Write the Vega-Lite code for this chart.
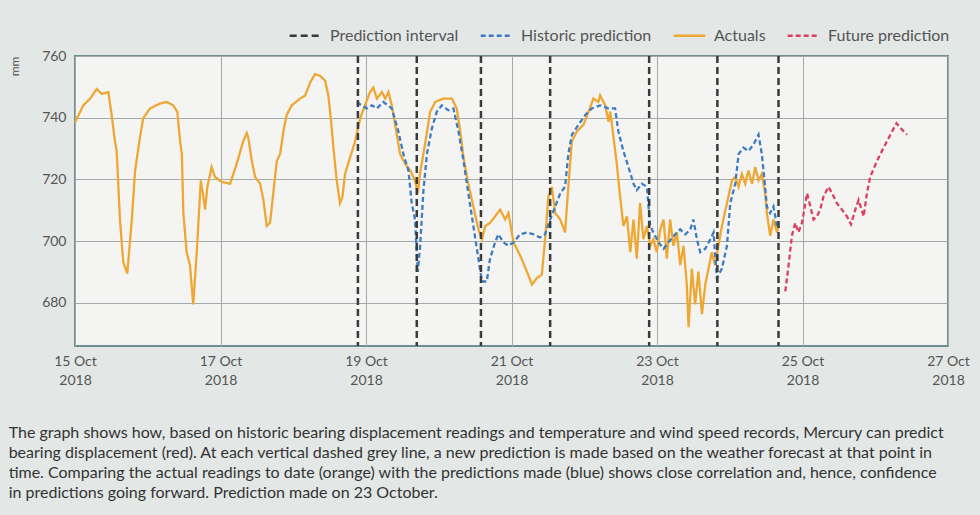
{
  "$schema": "https://vega.github.io/schema/vega-lite/v6.json",
  "autosize": "none",
  "width": 873,
  "height": 290,
  "padding": {"left": 75, "top": 56, "right": 32, "bottom": 169},
  "background": "#e3e7e6",
  "config": {
    "font": "Lato",
    "view": {"fill": "#f4f5f3", "stroke": "#6f9090", "strokeWidth": 2},
    "axis": {"labelFont": "Lato", "labelFontSize": 14, "labelColor": "#555", "titleFont": "Lato", "titleColor": "#555", "gridColor": "#a2abaa", "gridWidth": 1, "ticks": false, "domain": false},
    "legend": {"labelFont": "Lato", "labelFontSize": 16, "labelColor": "#555", "symbolType": "stroke", "symbolStrokeWidth": 2.5, "symbolSize": 1000, "columnPadding": 16, "labelOffset": 7}
  },
  "title": {
    "text": [
      "The graph shows how, based on historic bearing displacement readings and temperature and wind speed records, Mercury can predict",
      "bearing displacement (red). At each vertical dashed grey line, a new prediction is made based on the weather forecast at that point in",
      "time. Comparing the actual readings to date (orange) with the predictions made (blue) shows close correlation and, hence, confidence",
      "in predictions going forward. Prediction made on 23 October."
    ],
    "orient": "bottom",
    "anchor": "start",
    "align": "left",
    "dx": 0,
    "offset": 38,
    "font": "Lato",
    "fontSize": 16,
    "fontWeight": "normal",
    "color": "#333",
    "lineHeight": 20
  },
  "datasets": {
    "intervals": [
      {"t": "2018-10-18T21:20", "s": "Prediction interval"},
      {"t": "2018-10-19T16:45", "s": "Prediction interval"},
      {"t": "2018-10-20T13:55", "s": "Prediction interval"},
      {"t": "2018-10-21T12:45", "s": "Prediction interval"},
      {"t": "2018-10-22T21:25", "s": "Prediction interval"},
      {"t": "2018-10-23T19:55", "s": "Prediction interval"},
      {"t": "2018-10-24T16:05", "s": "Prediction interval"}
    ],
    "lines": [
      {"t":"2018-10-15T00:00","v":738.5,"s":"Actuals"},
      {"t":"2018-10-15T02:45","v":744,"s":"Actuals"},
      {"t":"2018-10-15T05:00","v":746.2,"s":"Actuals"},
      {"t":"2018-10-15T07:10","v":749.3,"s":"Actuals"},
      {"t":"2018-10-15T08:50","v":747.7,"s":"Actuals"},
      {"t":"2018-10-15T11:00","v":748.3,"s":"Actuals"},
      {"t":"2018-10-15T12:05","v":740.9,"s":"Actuals"},
      {"t":"2018-10-15T13:10","v":732.5,"s":"Actuals"},
      {"t":"2018-10-15T13:45","v":729.2,"s":"Actuals"},
      {"t":"2018-10-15T14:50","v":707,"s":"Actuals"},
      {"t":"2018-10-15T15:55","v":693.2,"s":"Actuals"},
      {"t":"2018-10-15T17:15","v":689.5,"s":"Actuals"},
      {"t":"2018-10-15T18:45","v":707,"s":"Actuals"},
      {"t":"2018-10-15T19:50","v":722.9,"s":"Actuals"},
      {"t":"2018-10-15T21:25","v":733.5,"s":"Actuals"},
      {"t":"2018-10-15T22:30","v":739.8,"s":"Actuals"},
      {"t":"2018-10-16T00:45","v":743,"s":"Actuals"},
      {"t":"2018-10-16T04:05","v":744.6,"s":"Actuals"},
      {"t":"2018-10-16T06:15","v":745.1,"s":"Actuals"},
      {"t":"2018-10-16T08:25","v":744,"s":"Actuals"},
      {"t":"2018-10-16T09:45","v":741.9,"s":"Actuals"},
      {"t":"2018-10-16T10:40","v":732.4,"s":"Actuals"},
      {"t":"2018-10-16T11:15","v":728.2,"s":"Actuals"},
      {"t":"2018-10-16T11:45","v":709.1,"s":"Actuals"},
      {"t":"2018-10-16T12:50","v":696.4,"s":"Actuals"},
      {"t":"2018-10-16T13:55","v":692.2,"s":"Actuals"},
      {"t":"2018-10-16T15:00","v":679.5,"s":"Actuals"},
      {"t":"2018-10-16T16:10","v":696.4,"s":"Actuals"},
      {"t":"2018-10-16T17:30","v":719.7,"s":"Actuals"},
      {"t":"2018-10-16T18:20","v":714.4,"s":"Actuals"},
      {"t":"2018-10-16T18:55","v":710.2,"s":"Actuals"},
      {"t":"2018-10-16T19:40","v":717.6,"s":"Actuals"},
      {"t":"2018-10-16T21:05","v":724,"s":"Actuals"},
      {"t":"2018-10-16T22:10","v":720.8,"s":"Actuals"},
      {"t":"2018-10-17T00:25","v":719.2,"s":"Actuals"},
      {"t":"2018-10-17T03:10","v":718.6,"s":"Actuals"},
      {"t":"2018-10-17T05:20","v":725,"s":"Actuals"},
      {"t":"2018-10-17T07:30","v":732.4,"s":"Actuals"},
      {"t":"2018-10-17T08:40","v":735,"s":"Actuals"},
      {"t":"2018-10-17T09:10","v":733.5,"s":"Actuals"},
      {"t":"2018-10-17T10:20","v":726,"s":"Actuals"},
      {"t":"2018-10-17T11:25","v":720.8,"s":"Actuals"},
      {"t":"2018-10-17T13:05","v":718.6,"s":"Actuals"},
      {"t":"2018-10-17T14:10","v":713.3,"s":"Actuals"},
      {"t":"2018-10-17T15:15","v":704.9,"s":"Actuals"},
      {"t":"2018-10-17T16:20","v":705.9,"s":"Actuals"},
      {"t":"2018-10-17T17:25","v":715.5,"s":"Actuals"},
      {"t":"2018-10-17T18:35","v":726,"s":"Actuals"},
      {"t":"2018-10-17T19:40","v":728.2,"s":"Actuals"},
      {"t":"2018-10-17T20:45","v":735.6,"s":"Actuals"},
      {"t":"2018-10-17T21:50","v":740.9,"s":"Actuals"},
      {"t":"2018-10-17T23:30","v":744,"s":"Actuals"},
      {"t":"2018-10-18T02:15","v":746.2,"s":"Actuals"},
      {"t":"2018-10-18T03:55","v":747.2,"s":"Actuals"},
      {"t":"2018-10-18T05:35","v":751.4,"s":"Actuals"},
      {"t":"2018-10-18T07:10","v":754.1,"s":"Actuals"},
      {"t":"2018-10-18T08:50","v":753.6,"s":"Actuals"},
      {"t":"2018-10-18T10:30","v":752,"s":"Actuals"},
      {"t":"2018-10-18T11:35","v":747.2,"s":"Actuals"},
      {"t":"2018-10-18T12:30","v":738.7,"s":"Actuals"},
      {"t":"2018-10-18T13:15","v":730.3,"s":"Actuals"},
      {"t":"2018-10-18T14:20","v":719.7,"s":"Actuals"},
      {"t":"2018-10-18T15:25","v":712.3,"s":"Actuals"},
      {"t":"2018-10-18T16:15","v":714.4,"s":"Actuals"},
      {"t":"2018-10-18T17:05","v":721.8,"s":"Actuals"},
      {"t":"2018-10-18T18:45","v":727.1,"s":"Actuals"},
      {"t":"2018-10-18T20:25","v":732.4,"s":"Actuals"},
      {"t":"2018-10-18T22:05","v":739.8,"s":"Actuals"},
      {"t":"2018-10-18T23:40","v":744,"s":"Actuals"},
      {"t":"2018-10-19T01:20","v":748.3,"s":"Actuals"},
      {"t":"2018-10-19T02:25","v":749.8,"s":"Actuals"},
      {"t":"2018-10-19T03:35","v":746.2,"s":"Actuals"},
      {"t":"2018-10-19T05:15","v":748.3,"s":"Actuals"},
      {"t":"2018-10-19T06:20","v":746.2,"s":"Actuals"},
      {"t":"2018-10-19T07:25","v":748.3,"s":"Actuals"},
      {"t":"2018-10-19T08:30","v":744,"s":"Actuals"},
      {"t":"2018-10-19T10:10","v":734.5,"s":"Actuals"},
      {"t":"2018-10-19T11:15","v":728.2,"s":"Actuals"},
      {"t":"2018-10-19T12:55","v":725,"s":"Actuals"},
      {"t":"2018-10-19T14:35","v":722.9,"s":"Actuals"},
      {"t":"2018-10-19T16:10","v":719.7,"s":"Actuals"},
      {"t":"2018-10-19T17:05","v":715.5,"s":"Actuals"},
      {"t":"2018-10-19T17:50","v":722,"s":"Actuals"},
      {"t":"2018-10-19T19:30","v":731.5,"s":"Actuals"},
      {"t":"2018-10-19T21:10","v":741.9,"s":"Actuals"},
      {"t":"2018-10-19T22:50","v":745.1,"s":"Actuals"},
      {"t":"2018-10-20T01:30","v":746.2,"s":"Actuals"},
      {"t":"2018-10-20T04:20","v":746.2,"s":"Actuals"},
      {"t":"2018-10-20T05:55","v":743,"s":"Actuals"},
      {"t":"2018-10-20T07:05","v":735.6,"s":"Actuals"},
      {"t":"2018-10-20T08:10","v":727.1,"s":"Actuals"},
      {"t":"2018-10-20T09:45","v":718.6,"s":"Actuals"},
      {"t":"2018-10-20T11:25","v":711.2,"s":"Actuals"},
      {"t":"2018-10-20T13:05","v":703.8,"s":"Actuals"},
      {"t":"2018-10-20T14:15","v":700.6,"s":"Actuals"},
      {"t":"2018-10-20T15:20","v":704.9,"s":"Actuals"},
      {"t":"2018-10-20T16:55","v":705.9,"s":"Actuals"},
      {"t":"2018-10-20T18:35","v":708,"s":"Actuals"},
      {"t":"2018-10-20T20:15","v":710.2,"s":"Actuals"},
      {"t":"2018-10-20T21:55","v":707,"s":"Actuals"},
      {"t":"2018-10-20T23:00","v":709.1,"s":"Actuals"},
      {"t":"2018-10-21T00:40","v":699.6,"s":"Actuals"},
      {"t":"2018-10-21T02:50","v":695.4,"s":"Actuals"},
      {"t":"2018-10-21T05:05","v":690.1,"s":"Actuals"},
      {"t":"2018-10-21T06:45","v":685.9,"s":"Actuals"},
      {"t":"2018-10-21T08:20","v":688,"s":"Actuals"},
      {"t":"2018-10-21T10:00","v":689.1,"s":"Actuals"},
      {"t":"2018-10-21T11:05","v":700.6,"s":"Actuals"},
      {"t":"2018-10-21T12:10","v":714.4,"s":"Actuals"},
      {"t":"2018-10-21T13:20","v":717.6,"s":"Actuals"},
      {"t":"2018-10-21T14:25","v":709.1,"s":"Actuals"},
      {"t":"2018-10-21T16:05","v":707,"s":"Actuals"},
      {"t":"2018-10-21T17:40","v":702.8,"s":"Actuals"},
      {"t":"2018-10-21T18:45","v":717.6,"s":"Actuals"},
      {"t":"2018-10-21T19:55","v":732.4,"s":"Actuals"},
      {"t":"2018-10-21T21:35","v":735.6,"s":"Actuals"},
      {"t":"2018-10-21T23:45","v":737.7,"s":"Actuals"},
      {"t":"2018-10-22T01:25","v":741.9,"s":"Actuals"},
      {"t":"2018-10-22T03:00","v":746.2,"s":"Actuals"},
      {"t":"2018-10-22T04:40","v":745.1,"s":"Actuals"},
      {"t":"2018-10-22T05:15","v":747.2,"s":"Actuals"},
      {"t":"2018-10-22T06:55","v":744,"s":"Actuals"},
      {"t":"2018-10-22T08:00","v":738.7,"s":"Actuals"},
      {"t":"2018-10-22T08:35","v":742,"s":"Actuals"},
      {"t":"2018-10-22T09:40","v":733.5,"s":"Actuals"},
      {"t":"2018-10-22T10:45","v":725,"s":"Actuals"},
      {"t":"2018-10-22T11:50","v":714.4,"s":"Actuals"},
      {"t":"2018-10-22T12:55","v":704.9,"s":"Actuals"},
      {"t":"2018-10-22T14:05","v":708,"s":"Actuals"},
      {"t":"2018-10-22T15:10","v":696.4,"s":"Actuals"},
      {"t":"2018-10-22T16:15","v":707,"s":"Actuals"},
      {"t":"2018-10-22T17:20","v":694.3,"s":"Actuals"},
      {"t":"2018-10-22T18:25","v":712.3,"s":"Actuals"},
      {"t":"2018-10-22T19:30","v":700.6,"s":"Actuals"},
      {"t":"2018-10-22T20:40","v":704.9,"s":"Actuals"},
      {"t":"2018-10-22T21:45","v":698.5,"s":"Actuals"},
      {"t":"2018-10-22T22:50","v":700.6,"s":"Actuals"},
      {"t":"2018-10-22T23:55","v":696.4,"s":"Actuals"},
      {"t":"2018-10-23T01:05","v":703.8,"s":"Actuals"},
      {"t":"2018-10-23T02:10","v":707,"s":"Actuals"},
      {"t":"2018-10-23T03:15","v":694.3,"s":"Actuals"},
      {"t":"2018-10-23T04:20","v":707,"s":"Actuals"},
      {"t":"2018-10-23T05:25","v":698.5,"s":"Actuals"},
      {"t":"2018-10-23T06:35","v":702.8,"s":"Actuals"},
      {"t":"2018-10-23T07:40","v":692.2,"s":"Actuals"},
      {"t":"2018-10-23T08:45","v":698.5,"s":"Actuals"},
      {"t":"2018-10-23T09:50","v":685.9,"s":"Actuals"},
      {"t":"2018-10-23T10:25","v":672.1,"s":"Actuals"},
      {"t":"2018-10-23T11:30","v":691.1,"s":"Actuals"},
      {"t":"2018-10-23T12:35","v":679.5,"s":"Actuals"},
      {"t":"2018-10-23T13:40","v":690.1,"s":"Actuals"},
      {"t":"2018-10-23T14:50","v":676.3,"s":"Actuals"},
      {"t":"2018-10-23T15:55","v":685.9,"s":"Actuals"},
      {"t":"2018-10-23T17:00","v":691.1,"s":"Actuals"},
      {"t":"2018-10-23T18:05","v":696.4,"s":"Actuals"},
      {"t":"2018-10-23T19:10","v":692.2,"s":"Actuals"},
      {"t":"2018-10-23T20:15","v":698.5,"s":"Actuals"},
      {"t":"2018-10-23T21:25","v":704.9,"s":"Actuals"},
      {"t":"2018-10-23T23:05","v":712.3,"s":"Actuals"},
      {"t":"2018-10-24T00:45","v":719.7,"s":"Actuals"},
      {"t":"2018-10-24T01:50","v":720.8,"s":"Actuals"},
      {"t":"2018-10-24T02:55","v":717.6,"s":"Actuals"},
      {"t":"2018-10-24T04:00","v":721.8,"s":"Actuals"},
      {"t":"2018-10-24T05:05","v":718.6,"s":"Actuals"},
      {"t":"2018-10-24T06:10","v":722.9,"s":"Actuals"},
      {"t":"2018-10-24T07:20","v":718.6,"s":"Actuals"},
      {"t":"2018-10-24T08:25","v":724,"s":"Actuals"},
      {"t":"2018-10-24T09:30","v":719.7,"s":"Actuals"},
      {"t":"2018-10-24T10:35","v":721.8,"s":"Actuals"},
      {"t":"2018-10-24T11:40","v":715.5,"s":"Actuals"},
      {"t":"2018-10-24T12:15","v":709.1,"s":"Actuals"},
      {"t":"2018-10-24T13:20","v":701.7,"s":"Actuals"},
      {"t":"2018-10-24T14:25","v":707,"s":"Actuals"},
      {"t":"2018-10-24T15:35","v":702.8,"s":"Actuals"},
      {"t":"2018-10-24T16:05","v":705,"s":"Actuals"},

      {"t":"2018-10-18T21:00","v":745.1,"s":"Historic prediction"},
      {"t":"2018-10-18T22:35","v":744,"s":"Historic prediction"},
      {"t":"2018-10-19T00:15","v":743,"s":"Historic prediction"},
      {"t":"2018-10-19T01:55","v":744,"s":"Historic prediction"},
      {"t":"2018-10-19T03:35","v":743,"s":"Historic prediction"},
      {"t":"2018-10-19T05:45","v":745.1,"s":"Historic prediction"},
      {"t":"2018-10-19T08:30","v":743,"s":"Historic prediction"},
      {"t":"2018-10-19T10:40","v":735.6,"s":"Historic prediction"},
      {"t":"2018-10-19T12:20","v":728.2,"s":"Historic prediction"},
      {"t":"2018-10-19T14:00","v":722.9,"s":"Historic prediction"},
      {"t":"2018-10-19T15:05","v":712.3,"s":"Historic prediction"},
      {"t":"2018-10-19T16:10","v":707,"s":"Historic prediction"},
      {"t":"2018-10-19T17:05","v":690,"s":"Historic prediction"},
      {"t":"2018-10-19T17:50","v":698,"s":"Historic prediction"},
      {"t":"2018-10-19T18:55","v":716,"s":"Historic prediction"},
      {"t":"2018-10-19T20:05","v":728.2,"s":"Historic prediction"},
      {"t":"2018-10-19T21:45","v":736.6,"s":"Historic prediction"},
      {"t":"2018-10-19T23:20","v":741.9,"s":"Historic prediction"},
      {"t":"2018-10-20T01:00","v":744,"s":"Historic prediction"},
      {"t":"2018-10-20T03:10","v":742.4,"s":"Historic prediction"},
      {"t":"2018-10-20T04:50","v":743,"s":"Historic prediction"},
      {"t":"2018-10-20T06:30","v":735.6,"s":"Historic prediction"},
      {"t":"2018-10-20T08:10","v":726,"s":"Historic prediction"},
      {"t":"2018-10-20T09:45","v":715.5,"s":"Historic prediction"},
      {"t":"2018-10-20T11:25","v":704.9,"s":"Historic prediction"},
      {"t":"2018-10-20T13:05","v":694.3,"s":"Historic prediction"},
      {"t":"2018-10-20T14:15","v":686.9,"s":"Historic prediction"},
      {"t":"2018-10-20T15:50","v":686.9,"s":"Historic prediction"},
      {"t":"2018-10-20T16:55","v":694.3,"s":"Historic prediction"},
      {"t":"2018-10-20T18:35","v":699.6,"s":"Historic prediction"},
      {"t":"2018-10-20T19:40","v":702.2,"s":"Historic prediction"},
      {"t":"2018-10-20T21:20","v":699.6,"s":"Historic prediction"},
      {"t":"2018-10-20T23:00","v":698.5,"s":"Historic prediction"},
      {"t":"2018-10-21T00:40","v":699.6,"s":"Historic prediction"},
      {"t":"2018-10-21T02:50","v":702.2,"s":"Historic prediction"},
      {"t":"2018-10-21T05:05","v":702.8,"s":"Historic prediction"},
      {"t":"2018-10-21T07:15","v":702.2,"s":"Historic prediction"},
      {"t":"2018-10-21T09:25","v":701.2,"s":"Historic prediction"},
      {"t":"2018-10-21T11:05","v":702.2,"s":"Historic prediction"},
      {"t":"2018-10-21T12:45","v":707,"s":"Historic prediction"},
      {"t":"2018-10-21T14:25","v":711.2,"s":"Historic prediction"},
      {"t":"2018-10-21T16:05","v":715.5,"s":"Historic prediction"},
      {"t":"2018-10-21T17:40","v":717.6,"s":"Historic prediction"},
      {"t":"2018-10-21T18:45","v":728.2,"s":"Historic prediction"},
      {"t":"2018-10-21T19:55","v":734.5,"s":"Historic prediction"},
      {"t":"2018-10-21T22:05","v":737.7,"s":"Historic prediction"},
      {"t":"2018-10-22T00:20","v":740.9,"s":"Historic prediction"},
      {"t":"2018-10-22T02:30","v":743,"s":"Historic prediction"},
      {"t":"2018-10-22T05:15","v":744,"s":"Historic prediction"},
      {"t":"2018-10-22T08:00","v":743,"s":"Historic prediction"},
      {"t":"2018-10-22T10:10","v":743,"s":"Historic prediction"},
      {"t":"2018-10-22T11:15","v":735.6,"s":"Historic prediction"},
      {"t":"2018-10-22T12:55","v":729.2,"s":"Historic prediction"},
      {"t":"2018-10-22T14:35","v":724,"s":"Historic prediction"},
      {"t":"2018-10-22T16:15","v":718.6,"s":"Historic prediction"},
      {"t":"2018-10-22T17:20","v":716.5,"s":"Historic prediction"},
      {"t":"2018-10-22T19:00","v":718.6,"s":"Historic prediction"},
      {"t":"2018-10-22T20:40","v":717.6,"s":"Historic prediction"},
      {"t":"2018-10-22T21:45","v":704.9,"s":"Historic prediction"},
      {"t":"2018-10-22T22:50","v":702.8,"s":"Historic prediction"},
      {"t":"2018-10-23T00:30","v":699.6,"s":"Historic prediction"},
      {"t":"2018-10-23T02:10","v":697.5,"s":"Historic prediction"},
      {"t":"2018-10-23T03:45","v":699.6,"s":"Historic prediction"},
      {"t":"2018-10-23T06:00","v":702.2,"s":"Historic prediction"},
      {"t":"2018-10-23T07:40","v":703.8,"s":"Historic prediction"},
      {"t":"2018-10-23T09:20","v":702.2,"s":"Historic prediction"},
      {"t":"2018-10-23T11:00","v":703.8,"s":"Historic prediction"},
      {"t":"2018-10-23T12:00","v":707,"s":"Historic prediction"},
      {"t":"2018-10-23T13:10","v":700.6,"s":"Historic prediction"},
      {"t":"2018-10-23T14:15","v":696.4,"s":"Historic prediction"},
      {"t":"2018-10-23T15:55","v":697.5,"s":"Historic prediction"},
      {"t":"2018-10-23T17:35","v":700.6,"s":"Historic prediction"},
      {"t":"2018-10-23T18:40","v":702.8,"s":"Historic prediction"},
      {"t":"2018-10-23T19:45","v":688,"s":"Historic prediction"},
      {"t":"2018-10-23T21:25","v":691.1,"s":"Historic prediction"},
      {"t":"2018-10-23T23:05","v":698.5,"s":"Historic prediction"},
      {"t":"2018-10-24T00:10","v":712.3,"s":"Historic prediction"},
      {"t":"2018-10-24T01:50","v":718.6,"s":"Historic prediction"},
      {"t":"2018-10-24T02:55","v":728.2,"s":"Historic prediction"},
      {"t":"2018-10-24T04:30","v":730.3,"s":"Historic prediction"},
      {"t":"2018-10-24T06:10","v":729.2,"s":"Historic prediction"},
      {"t":"2018-10-24T07:50","v":731.3,"s":"Historic prediction"},
      {"t":"2018-10-24T09:30","v":734.5,"s":"Historic prediction"},
      {"t":"2018-10-24T10:35","v":728.2,"s":"Historic prediction"},
      {"t":"2018-10-24T11:40","v":717.6,"s":"Historic prediction"},
      {"t":"2018-10-24T12:15","v":711.2,"s":"Historic prediction"},
      {"t":"2018-10-24T13:20","v":709.1,"s":"Historic prediction"},
      {"t":"2018-10-24T14:25","v":711.2,"s":"Historic prediction"},
      {"t":"2018-10-24T15:35","v":704.9,"s":"Historic prediction"},

      {"t":"2018-10-24T18:20","v":683.7,"s":"Future prediction"},
      {"t":"2018-10-24T19:25","v":692.2,"s":"Future prediction"},
      {"t":"2018-10-24T20:30","v":701.7,"s":"Future prediction"},
      {"t":"2018-10-24T21:35","v":705.9,"s":"Future prediction"},
      {"t":"2018-10-24T22:40","v":702.8,"s":"Future prediction"},
      {"t":"2018-10-24T23:50","v":705.9,"s":"Future prediction"},
      {"t":"2018-10-25T01:30","v":715.5,"s":"Future prediction"},
      {"t":"2018-10-25T02:35","v":711.2,"s":"Future prediction"},
      {"t":"2018-10-25T03:40","v":707,"s":"Future prediction"},
      {"t":"2018-10-25T04:45","v":708,"s":"Future prediction"},
      {"t":"2018-10-25T05:50","v":710.2,"s":"Future prediction"},
      {"t":"2018-10-25T06:55","v":714.4,"s":"Future prediction"},
      {"t":"2018-10-25T08:35","v":717.6,"s":"Future prediction"},
      {"t":"2018-10-25T09:45","v":715.5,"s":"Future prediction"},
      {"t":"2018-10-25T11:20","v":712.3,"s":"Future prediction"},
      {"t":"2018-10-25T13:00","v":710.2,"s":"Future prediction"},
      {"t":"2018-10-25T14:40","v":708,"s":"Future prediction"},
      {"t":"2018-10-25T16:00","v":705.4,"s":"Future prediction"},
      {"t":"2018-10-25T17:25","v":710.2,"s":"Future prediction"},
      {"t":"2018-10-25T18:30","v":713.3,"s":"Future prediction"},
      {"t":"2018-10-25T20:10","v":708,"s":"Future prediction"},
      {"t":"2018-10-25T21:15","v":715.5,"s":"Future prediction"},
      {"t":"2018-10-25T22:20","v":720.8,"s":"Future prediction"},
      {"t":"2018-10-26T00:35","v":726,"s":"Future prediction"},
      {"t":"2018-10-26T02:45","v":730.3,"s":"Future prediction"},
      {"t":"2018-10-26T05:00","v":734.5,"s":"Future prediction"},
      {"t":"2018-10-26T07:00","v":738.2,"s":"Future prediction"},
      {"t":"2018-10-26T08:50","v":736.1,"s":"Future prediction"},
      {"t":"2018-10-26T10:30","v":734.5,"s":"Future prediction"}
    ]
  },
  "encoding": {
    "x": {
      "field": "t", "type": "temporal",
      "scale": {"domain": [{"year": 2018, "month": 10, "date": 15}, {"year": 2018, "month": 10, "date": 27}]},
      "axis": {
        "title": null,
        "values": [
          {"year": 2018, "month": 10, "date": 15},
          {"year": 2018, "month": 10, "date": 17},
          {"year": 2018, "month": 10, "date": 19},
          {"year": 2018, "month": 10, "date": 21},
          {"year": 2018, "month": 10, "date": 23},
          {"year": 2018, "month": 10, "date": 25},
          {"year": 2018, "month": 10, "date": 27}
        ],
        "labelExpr": "[timeFormat(datum.value, '%-d %b'), timeFormat(datum.value, '%Y')]",
        "labelFlush": false,
        "labelOverlap": false,
        "labelPadding": 8,
        "labelLineHeight": 19
      }
    }
  },
  "layer": [
    {
      "data": {"name": "lines"},
      "mark": {"type": "line", "strokeWidth": 2.3},
      "encoding": {
        "y": {
          "field": "v", "type": "quantitative",
          "scale": {"domain": [666, 760], "nice": false, "zero": false},
          "axis": {"title": "mm", "values": [680, 700, 720, 740, 760], "titleAnchor": "end", "titleFontSize": 12, "titleFontWeight": "normal", "titlePadding": 20, "labelPadding": 9}
        },
        "color": {
          "field": "s", "type": "nominal",
          "scale": {"domain": ["Prediction interval", "Historic prediction", "Actuals", "Future prediction"], "range": ["#3a3a3a", "#3d7cc2", "#efa733", "#dc3f5f"]},
          "legend": {"title": null, "orient": "none", "direction": "horizontal", "legendX": 213, "legendY": -38}
        },
        "strokeDash": {
          "field": "s", "type": "nominal",
          "scale": {"domain": ["Prediction interval", "Historic prediction", "Actuals", "Future prediction"], "range": [[7, 4], [5, 3], [1, 0], [5, 3]]},
          "legend": {"title": null, "orient": "none", "direction": "horizontal", "legendX": 213, "legendY": -38}
        }
      }
    },
    {
      "data": {"name": "intervals"},
      "mark": {"type": "rule", "strokeWidth": 2.5},
      "encoding": {
        "color": {"field": "s", "type": "nominal"},
        "strokeDash": {"field": "s", "type": "nominal"}
      }
    }
  ]
}
